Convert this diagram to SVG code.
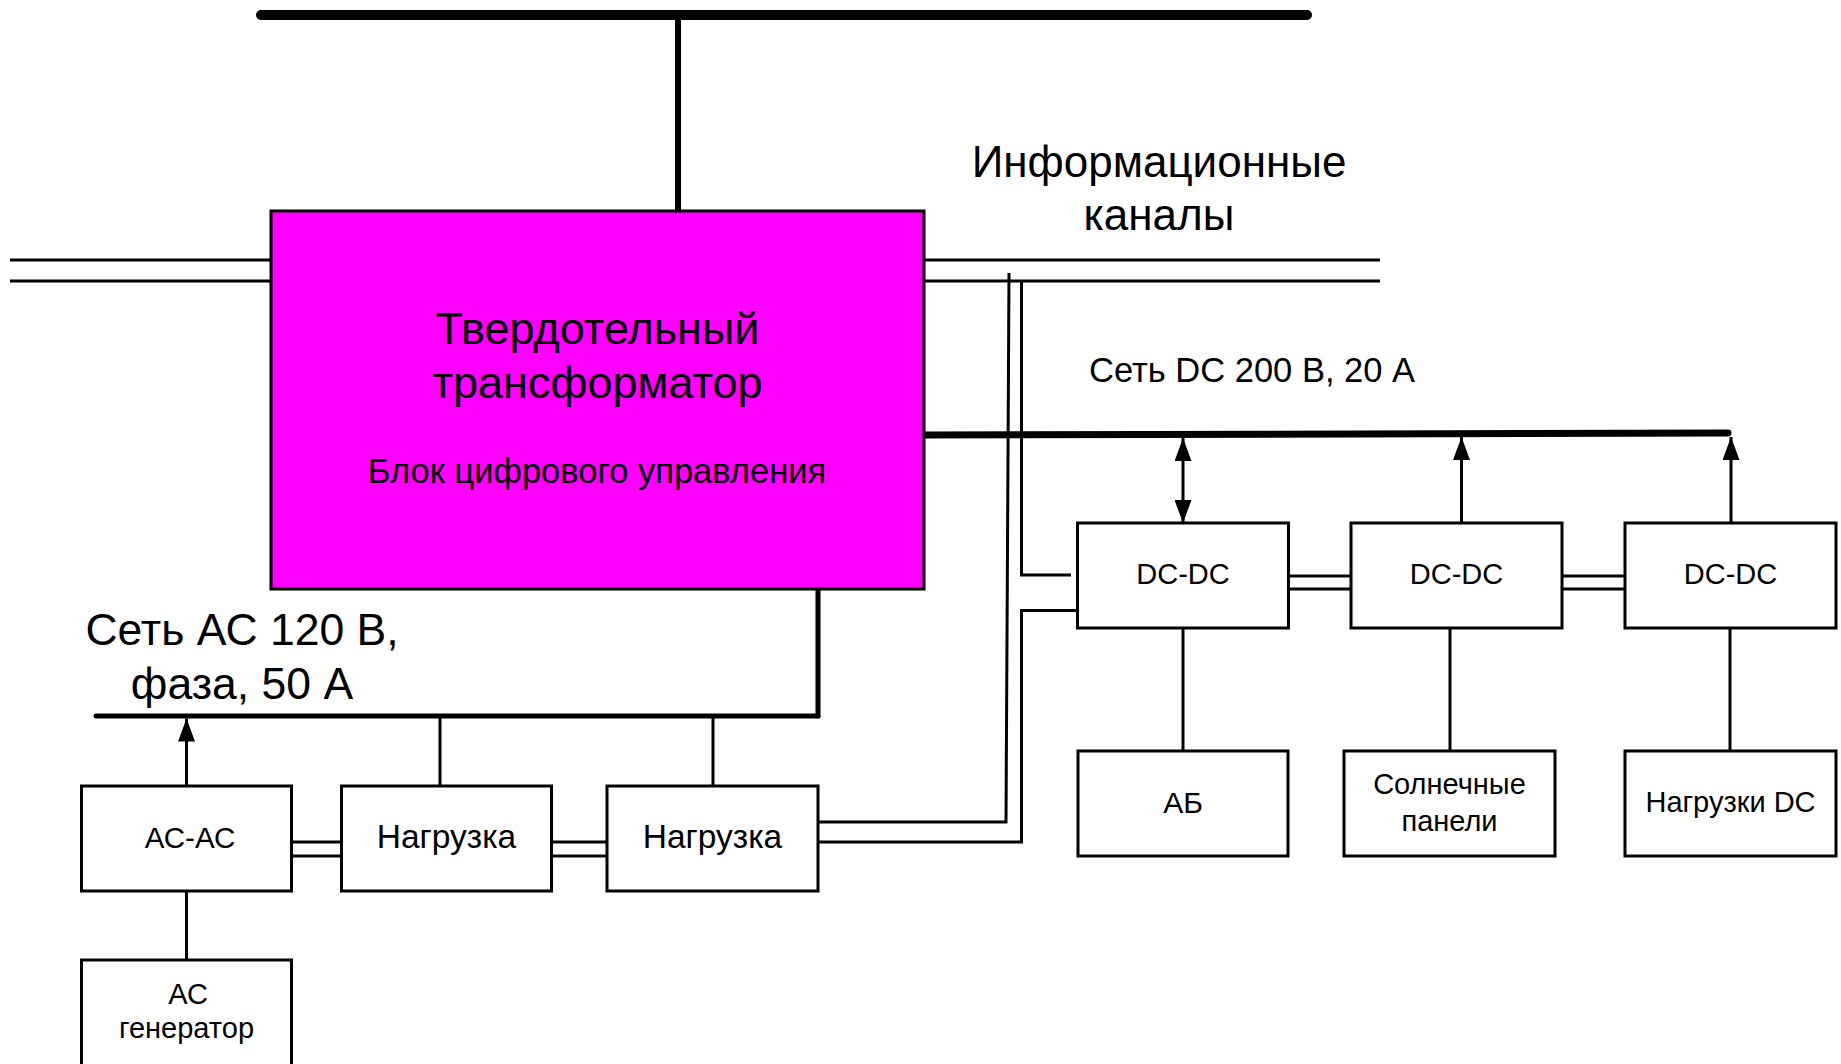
<svg xmlns="http://www.w3.org/2000/svg" width="1841" height="1064" viewBox="0 0 1841 1064">
<style>
  .box { fill: #ffffff; stroke: #000000; stroke-width: 3; }
  .main { fill: #ff00ff; stroke: #000000; stroke-width: 3; }
  .t { font-family: "Liberation Sans", Arial, sans-serif; fill: #000000; text-anchor: middle; }
  .s { text-anchor: start; }
  .w { fill: none; stroke: #000000; stroke-width: 3; }
  .bus { fill: none; stroke: #000000; stroke-linecap: round; }
</style>
<defs>
  <marker id="arr" viewBox="0 0 23 17" refX="23" refY="8.5" markerWidth="23" markerHeight="17" markerUnits="userSpaceOnUse" orient="auto-start-reverse">
    <path d="M0,0 L23,8.5 L0,17 z" fill="#000000"/>
  </marker>
</defs>

<g id="connectors">
  <line class="bus" x1="261" y1="15" x2="1307" y2="15" stroke-width="10"/>
  <line class="bus" x1="678" y1="15" x2="678" y2="211" stroke-width="6"/>
  <line class="w" x1="10" y1="260" x2="271" y2="260"/>
  <line class="w" x1="10" y1="281" x2="271" y2="281"/>
  <line class="w" x1="924" y1="260" x2="1380" y2="260"/>
  <line class="w" x1="924" y1="281" x2="1380" y2="281"/>
  <polyline class="w" points="1009,273 1006,822 819,822"/>
  <polyline class="w" points="1021.5,281 1021.5,575 1071,575"/>
  <polyline class="w" points="1077,610.5 1021.5,610.5 1021.5,842 819,842"/>
  <line class="bus" x1="925" y1="435" x2="1728" y2="433" stroke-width="7"/>
  <line class="w" x1="1183" y1="523" x2="1183" y2="438" marker-start="url(#arr)" marker-end="url(#arr)"/>
  <line class="w" x1="1461.5" y1="523" x2="1461.5" y2="437" marker-end="url(#arr)"/>
  <line class="w" x1="1731" y1="523" x2="1731" y2="437" marker-end="url(#arr)"/>
  <line class="w" x1="1289" y1="576" x2="1351" y2="576"/>
  <line class="w" x1="1289" y1="589" x2="1351" y2="589"/>
  <line class="w" x1="1562" y1="576" x2="1625" y2="576"/>
  <line class="w" x1="1562" y1="589" x2="1625" y2="589"/>
  <line class="w" x1="1183" y1="628" x2="1183" y2="751"/>
  <line class="w" x1="1450" y1="628" x2="1450" y2="751"/>
  <line class="w" x1="1730" y1="628" x2="1730" y2="751"/>
  <line class="bus" x1="818" y1="589" x2="818" y2="716" stroke-width="5" stroke-linecap="butt"/>
  <line class="bus" x1="96" y1="716" x2="818" y2="716" stroke-width="5"/>
  <line class="w" x1="186.5" y1="786" x2="186.5" y2="718.5" marker-end="url(#arr)"/>
  <line class="w" x1="440" y1="786" x2="440" y2="716"/>
  <line class="w" x1="713" y1="786" x2="713" y2="716"/>
  <line class="w" x1="292" y1="842" x2="341.5" y2="842"/>
  <line class="w" x1="292" y1="856" x2="341.5" y2="856"/>
  <line class="w" x1="552" y1="842" x2="607" y2="842"/>
  <line class="w" x1="552" y1="856" x2="607" y2="856"/>
  <line class="w" x1="186.5" y1="891" x2="186.5" y2="960"/>
</g>

<g id="sst">
  <rect class="main" x="271" y="211" width="653" height="378"/>
  <text class="t" x="597.5" y="344" font-size="45">Твердотельный</text>
  <text class="t" x="597.5" y="398" font-size="45">трансформатор</text>
  <text class="t" x="597" y="483" font-size="34.5">Блок цифрового управления</text>
</g>

<g id="label-info">
  <text class="t" x="1159" y="177" font-size="44">Информационные</text>
  <text class="t" x="1159" y="230" font-size="44">каналы</text>
</g>
<g id="label-dc">
  <text class="t s" x="1089" y="382" font-size="34.5">Сеть DC 200 В, 20 А</text>
</g>
<g id="label-ac">
  <text class="t" x="242" y="645" font-size="44.5">Сеть АС 120 В,</text>
  <text class="t" x="242" y="699" font-size="44.5">фаза, 50 А</text>
</g>

<g id="dcdc1">
  <rect class="box" x="1077.5" y="523" width="211" height="105"/>
  <text class="t" x="1183" y="584" font-size="29">DC-DC</text>
</g>
<g id="dcdc2">
  <rect class="box" x="1351" y="523" width="211" height="105"/>
  <text class="t" x="1456.5" y="584" font-size="29">DC-DC</text>
</g>
<g id="dcdc3">
  <rect class="box" x="1625" y="523" width="211" height="105"/>
  <text class="t" x="1730.5" y="584" font-size="29">DC-DC</text>
</g>
<g id="battery">
  <rect class="box" x="1078" y="751" width="210" height="105"/>
  <text class="t" x="1183" y="813" font-size="30">АБ</text>
</g>
<g id="solar">
  <rect class="box" x="1344" y="751" width="211" height="105"/>
  <text class="t" x="1449.5" y="794" font-size="29">Солнечные</text>
  <text class="t" x="1449.5" y="831" font-size="29">панели</text>
</g>
<g id="dcload">
  <rect class="box" x="1625" y="751" width="211" height="105"/>
  <text class="t" x="1730.5" y="812" font-size="29">Нагрузки DC</text>
</g>
<g id="acac">
  <rect class="box" x="81.5" y="786" width="210" height="105"/>
  <text class="t" x="190" y="848" font-size="29.5">АС-АС</text>
</g>
<g id="load1">
  <rect class="box" x="341.5" y="786" width="210" height="105"/>
  <text class="t" x="446.5" y="848" font-size="33.5">Нагрузка</text>
</g>
<g id="load2">
  <rect class="box" x="607" y="786" width="211" height="105"/>
  <text class="t" x="712.5" y="848" font-size="33.5">Нагрузка</text>
</g>
<g id="acgen">
  <rect class="box" x="81.5" y="960" width="210" height="130"/>
  <text class="t" x="188" y="1004" font-size="29">АС</text>
  <text class="t" x="186.5" y="1038" font-size="29">генератор</text>
</g>
</svg>
